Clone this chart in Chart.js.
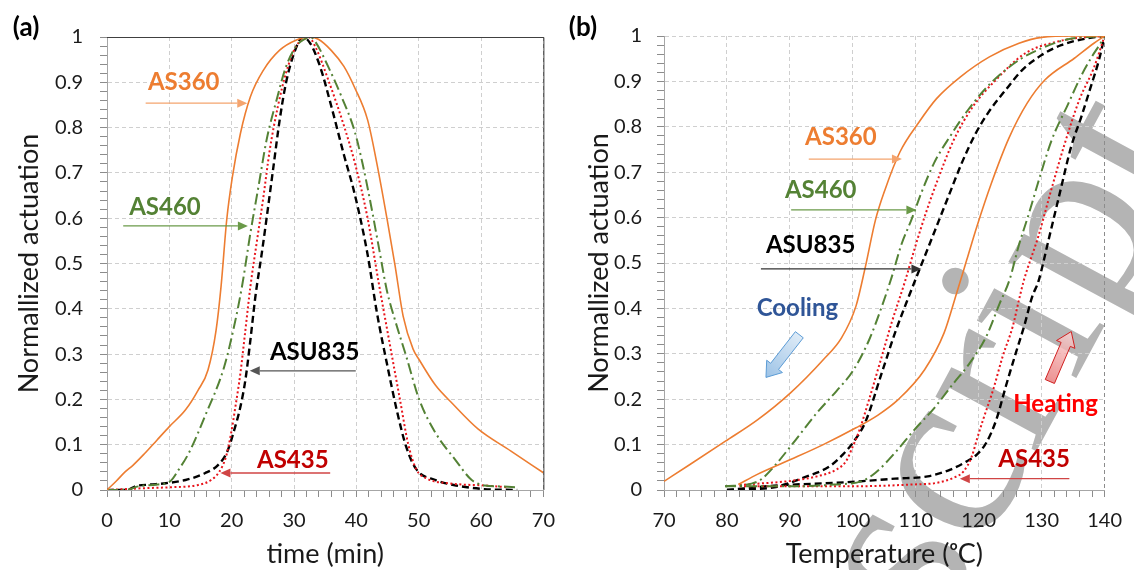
<!DOCTYPE html>
<html>
<head>
<meta charset="utf-8">
<script src="https://cdn.jsdelivr.net/npm/chart.js@4.4.0/dist/chart.umd.min.js"></script>
<style>
  body { margin: 0; background: #fff; }
  #wrap { position: relative; width: 1134px; height: 570px; }
  canvas { position: absolute; top: 0; }
  #chartA { left: 0; }
  #chartB { left: 567px; }
</style>
</head>
<body>
<div id="wrap">
  <canvas id="chartA" width="567" height="570"></canvas>
  <canvas id="chartB" width="567" height="570"></canvas>
</div>
<script>
// tick labels
var actTicks = [0, 0.1, 0.2, 0.3, 0.4, 0.5, 0.6, 0.7, 0.8, 0.9, 1];
var timeTicks = [0, 10, 20, 30, 40, 50, 60, 70];
var tempTicks = [70, 80, 90, 100, 110, 120, 130, 140];

// (a) actuation vs time (min)
var timeAS360 = [0, 1.5, 2.9, 4.2, 6, 8, 10, 12.6, 14.6, 16.2, 17.5, 18.3, 19.2, 20.1, 21.4, 23.0, 25.1, 27.7, 30.3, 32.4, 33.9, 36, 38, 39.7, 41.8, 43.3, 44.9, 46.2, 47.5, 49.1, 50.1, 52.7, 55.4, 59.5, 64.8, 70];
var actAS360 = [0, 0.02, 0.04, 0.055, 0.08, 0.11, 0.14, 0.177, 0.22, 0.265, 0.353, 0.45, 0.596, 0.69, 0.787, 0.868, 0.927, 0.971, 0.993, 1.0, 0.995, 0.97, 0.935, 0.889, 0.817, 0.72, 0.60, 0.496, 0.384, 0.311, 0.287, 0.231, 0.191, 0.135, 0.086, 0.038];

var timeAS460 = [0, 3, 5, 8, 10.2, 11.5, 13.1, 15.9, 18.8, 20.6, 21.7, 23.0, 24.3, 25.6, 27.2, 28.7, 30.3, 31.9, 32.6, 33.4, 35.5, 37.5, 39.7, 41, 42.3, 43.6, 44.9, 46.2, 48.0, 50.1, 52.7, 55.9, 58.5, 60.6, 63, 65.8];
var actAS460 = [0, 0, 0.008, 0.012, 0.02, 0.045, 0.081, 0.169, 0.272, 0.375, 0.453, 0.567, 0.67, 0.773, 0.861, 0.934, 0.979, 0.997, 1.0, 0.99, 0.934, 0.872, 0.793, 0.72, 0.632, 0.536, 0.44, 0.375, 0.295, 0.199, 0.126, 0.066, 0.022, 0.01, 0.008, 0.006];

var timeASU835 = [0, 3.2, 4.7, 7, 9.4, 12.6, 15.7, 17.8, 19.3, 20.4, 21.4, 22.2, 23.0, 23.8, 24.8, 25.6, 26.7, 27.7, 28.7, 30.0, 31.4, 32.6, 34.2, 36.0, 38.0, 39.7, 41.8, 43.3, 44.9, 46.5, 48.0, 49.6, 52.7, 56, 60.5, 65.8];
var actASU835 = [0, 0, 0.009, 0.012, 0.015, 0.022, 0.037, 0.055, 0.085, 0.132, 0.184, 0.243, 0.331, 0.427, 0.52, 0.60, 0.714, 0.817, 0.898, 0.964, 1.0, 0.986, 0.934, 0.846, 0.74, 0.655, 0.52, 0.391, 0.279, 0.175, 0.095, 0.046, 0.022, 0.01, 0.002, 0];

var timeAS435 = [0, 3, 6, 10, 14.6, 16.7, 18.0, 19.1, 19.9, 20.6, 21.4, 22.2, 23.0, 24.0, 25.1, 26.1, 27.4, 28.7, 30.3, 31.8, 32.3, 33.4, 35.5, 38.1, 39.7, 41.8, 43.6, 45.4, 47.0, 48.3, 49.6, 51.2, 55.4, 60.6, 64.2];
var actAS435 = [0, 0.002, 0.004, 0.006, 0.011, 0.022, 0.04, 0.074, 0.125, 0.184, 0.258, 0.353, 0.449, 0.545, 0.648, 0.75, 0.846, 0.92, 0.979, 0.997, 1.0, 0.979, 0.905, 0.80, 0.725, 0.60, 0.456, 0.319, 0.199, 0.102, 0.046, 0.026, 0.014, 0.01, 0.006];

// (b) actuation vs temperature (C): cooling and heating branches
var tempAS360Cool = [70, 74, 79.7, 84.9, 90.1, 95.3, 98.2, 100.5, 102.0, 103.6, 105.1, 107.5, 110.5, 113.3, 117.1, 121.7, 126.4, 130, 135.2, 140];
var actAS360Cool = [0.019, 0.055, 0.107, 0.155, 0.214, 0.287, 0.335, 0.405, 0.492, 0.595, 0.661, 0.745, 0.81, 0.862, 0.91, 0.954, 0.984, 0.997, 1.0, 1.0];
var tempAS360Heat = [81.8, 84.9, 90.1, 95.3, 100.5, 104, 107.2, 111.4, 114.5, 116.5, 118.1, 119.7, 122, 124.8, 127.7, 130.5, 135.2, 138.3, 140];
var actAS360Heat = [0.012, 0.035, 0.067, 0.1, 0.137, 0.165, 0.199, 0.265, 0.346, 0.434, 0.507, 0.58, 0.675, 0.775, 0.852, 0.903, 0.951, 0.984, 1.0];

var tempAS460Cool = [79.7, 83.9, 85.4, 87.5, 90.1, 94.3, 97.4, 100, 102.6, 104.6, 106.2, 107.7, 109.3, 110.9, 112.9, 115.5, 118.3, 121.9, 126.4, 130, 134.2, 140];
var actAS460Cool = [0.008, 0.014, 0.023, 0.052, 0.096, 0.17, 0.218, 0.262, 0.331, 0.404, 0.47, 0.54, 0.595, 0.655, 0.72, 0.78, 0.837, 0.896, 0.947, 0.973, 0.993, 1.0];
var tempAS460Heat = [79.7, 90, 97, 101.5, 103.6, 106.7, 109.8, 112.9, 116.0, 118.6, 121.2, 123.3, 124.9, 126.4, 128.0, 129.5, 131.6, 134.2, 136.2, 138, 139.4, 140];
var actAS460Heat = [0.008, 0.008, 0.012, 0.02, 0.038, 0.082, 0.133, 0.18, 0.235, 0.28, 0.338, 0.41, 0.463, 0.54, 0.61, 0.68, 0.771, 0.85, 0.91, 0.955, 0.985, 1.0];

var tempASU835Cool = [80, 84, 87.5, 92.7, 96.3, 98.4, 100, 102, 104.6, 106.7, 109, 111, 113, 115, 117.3, 119.5, 121.7, 124.5, 126.9, 130, 133.1, 137.3, 140];
var actASU835Cool = [0, 0.002, 0.006, 0.03, 0.052, 0.078, 0.104, 0.15, 0.258, 0.346, 0.43, 0.5, 0.57, 0.64, 0.72, 0.785, 0.835, 0.885, 0.925, 0.958, 0.98, 0.995, 1.0];
var tempASU835Heat = [80, 88, 98.9, 106.7, 111.9, 115.5, 118.1, 119.7, 121.2, 122.8, 124.3, 125.9, 127.2, 128.5, 129.5, 131.1, 132.9, 134.7, 136.3, 137.8, 139.1, 140];
var actASU835Heat = [0, 0.01, 0.017, 0.025, 0.03, 0.045, 0.063, 0.078, 0.104, 0.155, 0.228, 0.302, 0.36, 0.426, 0.46, 0.551, 0.655, 0.757, 0.822, 0.888, 0.947, 1.0];

var tempAS435Cool = [82, 84.9, 90.1, 94.3, 97.4, 98.9, 100, 101, 102.6, 104.3, 106.2, 108.3, 110, 111.6, 113.4, 116, 119.1, 122.5, 127.4, 132.6, 136, 140];
var actAS435Cool = [0.011, 0.014, 0.02, 0.03, 0.045, 0.063, 0.096, 0.13, 0.2, 0.28, 0.37, 0.46, 0.54, 0.61, 0.68, 0.77, 0.845, 0.9, 0.962, 0.988, 0.996, 1.0];
var tempAS435Heat = [82, 90, 98.9, 109.3, 113.4, 116, 117.6, 118.9, 119.7, 120.7, 122.3, 123.8, 125.4, 126.4, 127.2, 129.5, 131.5, 133.6, 136, 138.3, 140];
var actAS435Heat = [0.008, 0.008, 0.008, 0.012, 0.016, 0.027, 0.041, 0.074, 0.111, 0.155, 0.221, 0.294, 0.36, 0.419, 0.463, 0.56, 0.66, 0.76, 0.86, 0.93, 1.0];

var ORANGE = '#ED7D31', GREEN = '#548235', BLACK = '#000000', RED = '#E8141B';

Chart.defaults.font.family = 'Lato, "Open Sans", sans-serif';

function pts(xs, ys) {
    return xs.map(function (x, i) { return { x: x, y: ys[i] }; });
}

function onList(v, list) {
    return list.some(function (t) { return Math.abs(t - v) < 1e-6; });
}

function line(data, color, width, dash) {
    return {
        data: data,
        borderColor: color,
        borderWidth: width,
        borderDash: dash,
        pointRadius: 0,
        fill: false,
        cubicInterpolationMode: 'monotone'
    };
}

function orange(d) { return line(d, ORANGE, 1.6, []); }
function green(d) { return line(d, GREEN, 2, [11, 4, 2, 4]); }
function black(d) { return line(d, BLACK, 2.4, [7, 4]); }
function red(d) { return line(d, RED, 2, [2, 2.5]); }

function arrowLine(ctx, x1, y1, x2, y2, color) {
    var a = Math.atan2(y2 - y1, x2 - x1), L = 10, W = 4.5;
    var bx = x2 - Math.cos(a) * L, by = y2 - Math.sin(a) * L;
    ctx.save();
    ctx.strokeStyle = color;
    ctx.fillStyle = color;
    ctx.lineWidth = 1.3;
    ctx.beginPath();
    ctx.moveTo(x1, y1);
    ctx.lineTo(bx, by);
    ctx.stroke();
    ctx.beginPath();
    ctx.moveTo(x2, y2);
    ctx.lineTo(bx + W * Math.sin(a), by - W * Math.cos(a));
    ctx.lineTo(bx - W * Math.sin(a), by + W * Math.cos(a));
    ctx.closePath();
    ctx.fill();
    ctx.restore();
}

function blockArrow(ctx, x1, y1, x2, y2, c1, c2, stroke) {
    var dx = x2 - x1, dy = y2 - y1, len = Math.hypot(dx, dy);
    var ux = dx / len, uy = dy / len, nx = -uy, ny = ux;
    var sw = 5, hw = 10, hl = 14;
    var bx = x2 - ux * hl, by = y2 - uy * hl;
    var p = [
        [x1 + nx * sw, y1 + ny * sw], [bx + nx * sw, by + ny * sw], [bx + nx * hw, by + ny * hw],
        [x2, y2],
        [bx - nx * hw, by - ny * hw], [bx - nx * sw, by - ny * sw], [x1 - nx * sw, y1 - ny * sw]
    ];
    var g = ctx.createLinearGradient(x1, y1, x2, y2);
    g.addColorStop(0, c1);
    g.addColorStop(1, c2);
    ctx.save();
    ctx.beginPath();
    ctx.moveTo(p[0][0], p[0][1]);
    for (var i = 1; i < p.length; i++) ctx.lineTo(p[i][0], p[i][1]);
    ctx.closePath();
    ctx.fillStyle = g;
    ctx.fill();
    ctx.strokeStyle = stroke;
    ctx.lineWidth = 1;
    ctx.stroke();
    ctx.restore();
}

// labels, arrows and frame drawn on top of the plot, placed in data units
function notesPlugin(cfg) {
    return {
        id: 'notes',
        beforeDraw: function (chart) {
            if (!cfg.watermark) return;
            var ctx = chart.ctx;
            ctx.save();
            ctx.translate(368, 639);
            ctx.rotate(-61.6 * Math.PI / 180);
            ctx.font = '250px "Liberation Serif", serif';
            ctx.fillStyle = '#b4b4b4';
            ctx.fillText('script', 0, 0);
            ctx.restore();
        },
        afterDatasetsDraw: function (chart) {
            var ctx = chart.ctx, xs = chart.scales.x, ys = chart.scales.y, a = chart.chartArea;
            function px(v) { return xs.getPixelForValue(v); }
            function py(v) { return ys.getPixelForValue(v); }
            if (cfg.frame) {
                ctx.save();
                ctx.strokeStyle = '#404040';
                ctx.lineWidth = 1;
                ctx.beginPath();
                ctx.moveTo(a.left, a.top + 0.5);
                ctx.lineTo(a.right + 0.5, a.top + 0.5);
                ctx.lineTo(a.right + 0.5, a.bottom);
                ctx.stroke();
                ctx.restore();
            }
            (cfg.blocks || []).forEach(function (b) {
                blockArrow(ctx, px(b.x1), py(b.y1), px(b.x2), py(b.y2), b.c1, b.c2, b.stroke);
            });
            (cfg.arrows || []).forEach(function (r) {
                arrowLine(ctx, px(r.x1), py(r.y), px(r.x2), py(r.y), r.color);
            });
            ctx.save();
            ctx.font = 'bold 24px Lato, "Open Sans", sans-serif';
            ctx.textAlign = 'center';
            ctx.textBaseline = 'middle';
            (cfg.texts || []).forEach(function (t) {
                ctx.fillStyle = t.color;
                ctx.fillText(t.text, px(t.x), py(t.y));
            });
            ctx.font = 'bold 26px Lato, "Open Sans", sans-serif';
            ctx.fillStyle = '#000';
            ctx.fillText(cfg.panel.text, cfg.panel.x, cfg.panel.y);
            ctx.restore();
        }
    };
}

function options(xMin, xMax, xList, xTitle, yWidth, yPad, yTitlePad, pad) {
    return {
        responsive: false,
        animation: false,
        layout: { padding: pad },
        plugins: { legend: { display: false }, tooltip: { enabled: false } },
        scales: {
            x: {
                type: 'linear', min: xMin, max: xMax,
                afterFit: function (s) { s.height = 80; },
                ticks: {
                    stepSize: 2, autoSkip: false, maxRotation: 0, maxTicksLimit: 100, padding: 12,
                    color: '#1a1a1a', font: { size: 20 },
                    callback: function (v) { return onList(v, xList) ? String(v) : ''; }
                },
                grid: {
                    color: function (c) {
                        if (!c.tick || !onList(c.tick.value, xList)) return 'rgba(0,0,0,0)';
                        return c.tick.value === xMax ? '#8c8c8c' : '#cfcfcf';
                    },
                    tickColor: '#8c8c8c', tickLength: 7, lineWidth: 1
                },
                border: { color: '#a6a6a6', dash: [4, 3] },
                title: { display: true, text: xTitle, color: '#1a1a1a', font: { size: 27 }, padding: { top: 0, bottom: 0 } }
            },
            y: {
                type: 'linear', min: 0, max: 1,
                afterFit: function (s) { s.width = yWidth; },
                ticks: {
                    stepSize: 0.02, autoSkip: false, maxTicksLimit: 100, padding: yPad,
                    color: '#1a1a1a', font: { size: 20 },
                    callback: function (v) { return onList(v, actTicks) ? String(Math.round(v * 10) / 10) : ''; }
                },
                grid: {
                    color: function (c) {
                        return c.tick && onList(c.tick.value, actTicks) ? '#cfcfcf' : 'rgba(0,0,0,0)';
                    },
                    tickColor: '#8c8c8c', tickLength: 7, lineWidth: 1
                },
                border: { color: '#a6a6a6', dash: [4, 3] },
                title: { display: true, text: 'Normallized actuation', color: '#1a1a1a', font: { size: 27 }, padding: { top: yTitlePad, bottom: 0 } }
            }
        }
    };
}

new Chart(document.getElementById('chartA'), {
    type: 'line',
    data: {
        datasets: [
            orange(pts(timeAS360, actAS360)),
            green(pts(timeAS460, actAS460)),
            red(pts(timeAS435, actAS435)),
            black(pts(timeASU835, actASU835))
        ]
    },
    options: options(0, 70, timeTicks, 'time (min)', 107, 17, 13, { top: 37, right: 14, left: 0, bottom: 0 }),
    plugins: [notesPlugin({
        frame: true,
        panel: { text: '(a)', x: 26, y: 28 },
        texts: [
            { text: 'AS360', x: 12.3, y: 0.90, color: ORANGE },
            { text: 'AS460', x: 9.3, y: 0.625, color: GREEN },
            { text: 'ASU835', x: 33.3, y: 0.305, color: BLACK },
            { text: 'AS435', x: 29.8, y: 0.066, color: '#C00000' }
        ],
        arrows: [
            { x1: 6.2, x2: 22.5, y: 0.854, color: '#F4A46E' },
            { x1: 2.6, x2: 22.6, y: 0.583, color: '#6A9A48' },
            { x1: 39.9, x2: 22.9, y: 0.263, color: '#555555' },
            { x1: 35.8, x2: 18.2, y: 0.0375, color: '#D04545' }
        ]
    })]
});

new Chart(document.getElementById('chartB'), {
    type: 'line',
    data: {
        datasets: [
            orange(pts(tempAS360Cool, actAS360Cool)),
            orange(pts(tempAS360Heat, actAS360Heat)),
            green(pts(tempAS460Cool, actAS460Cool)),
            green(pts(tempAS460Heat, actAS460Heat)),
            red(pts(tempAS435Cool, actAS435Cool)),
            red(pts(tempAS435Heat, actAS435Heat)),
            black(pts(tempASU835Cool, actASU835Cool)),
            black(pts(tempASU835Heat, actASU835Heat))
        ]
    },
    options: options(70, 140, tempTicks, 'Temperature (\u1D52C)', 97, 15, 16, { top: 36, right: 20, left: 0, bottom: 0 }),
    plugins: [notesPlugin({
        watermark: true,
        panel: { text: '(b)', x: 16, y: 28 },
        texts: [
            { text: 'AS360', x: 98.1, y: 0.776, color: ORANGE },
            { text: 'AS460', x: 94.9, y: 0.661, color: GREEN },
            { text: 'ASU835', x: 93.3, y: 0.538, color: BLACK },
            { text: 'Cooling', x: 91.2, y: 0.401, color: '#2F5597' },
            { text: 'Heating', x: 132.2, y: 0.188, color: '#FF0000' },
            { text: 'AS435', x: 128.8, y: 0.067, color: '#C00000' }
        ],
        arrows: [
            { x1: 93.0, x2: 107.8, y: 0.729, color: '#F4A46E' },
            { x1: 90.2, x2: 110.1, y: 0.617, color: '#6A9A48' },
            { x1: 85.4, x2: 110.9, y: 0.487, color: '#333333' },
            { x1: 134.4, x2: 117.0, y: 0.025, color: '#D04545' }
        ],
        blocks: [
            { x1: 91.5, y1: 0.342, x2: 86.2, y2: 0.248, c1: '#DEEBF7', c2: '#9DC3E6', stroke: '#5B9BD5' },
            { x1: 131.3, y1: 0.239, x2: 134.7, y2: 0.349, c1: 'rgba(230,110,110,0.75)', c2: 'rgba(252,215,215,0.8)', stroke: '#D02020' }
        ]
    })]
});
</script>
</body>
</html>
